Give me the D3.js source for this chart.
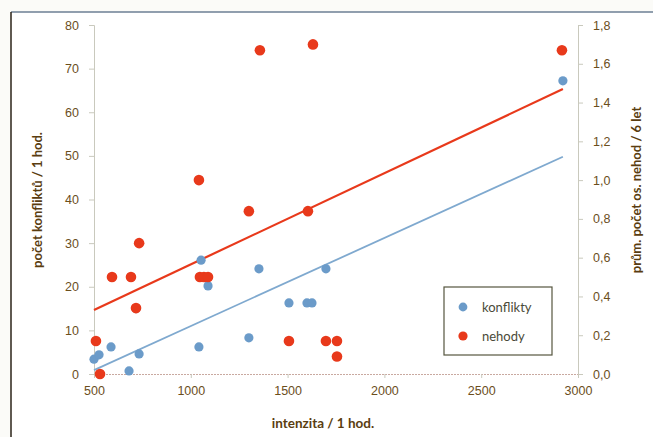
<!DOCTYPE html>
<html>
<head>
<meta charset="utf-8">
<script src="https://cdn.jsdelivr.net/npm/d3@7"></script>
<style>
  body { margin: 0; background: #fbfbf8; }
  svg { display: block; font-family: Lato, "Open Sans", sans-serif; }
</style>
</head>
<body>
<div id="chart"></div>
<script>
// konflikty (left axis) - intenzita vs pocet konfliktu
var konfliktyX = [500, 526, 588, 681, 717, 733, 1042, 1053, 1089, 1300, 1352, 1507, 1600, 1626, 1698, 2922];
var konfliktyY = [3.4, 4.4, 6.2, 0.7, 15, 4.6, 6.2, 26.1, 20.2, 8.3, 24.1, 16.3, 16.3, 16.3, 24.1, 67.2];

// nehody (right axis) - prum. pocet os. nehod
var nehodyX = [510, 531, 593, 691, 717, 733, 1042, 1047, 1068, 1089, 1300, 1357, 1507, 1605, 1631, 1698, 1755, 1755, 2917];
var nehodyY = [0.17, 0.0, 0.5, 0.5, 0.34, 0.675, 1.0, 0.5, 0.5, 0.5, 0.84, 1.67, 0.17, 0.84, 1.70, 0.17, 0.17, 0.09, 1.67];

// trendline end points
var trendKonflikty = [[500, 0.9], [2922, 49.8]];
var trendNehody = [[500, 0.33], [2922, 1.47]];

var xTicks = [500, 1000, 1500, 2000, 2500, 3000];
var leftTicks = [0, 10, 20, 30, 40, 50, 60, 70, 80];
var rightTicks = [0, 0.2, 0.4, 0.6, 0.8, 1.0, 1.2, 1.4, 1.6, 1.8];

var width = 653, height = 437;
var labelColor = "#6b4e1c", titleColor = "#5a3d10", axisColor = "#c9c9bd";
var blue = "#6b9bc9", red = "#e8391b";

var svg = d3.select("#chart").append("svg")
    .attr("width", width).attr("height", height)
    .attr("viewBox", [0, 0, width, height]);

// frame
svg.append("rect").attr("x", 11).attr("y", 12).attr("width", 700).attr("height", 500)
    .attr("fill", "#ffffff").attr("stroke", "none");
svg.append("line").attr("x1", 11).attr("x2", width).attr("y1", 12).attr("y2", 12)
    .attr("stroke", "#6d7f95").attr("stroke-width", 1.5);
svg.append("line").attr("x1", 11).attr("x2", 11).attr("y1", 12).attr("y2", height)
    .attr("stroke", "#2b2318").attr("stroke-width", 1.5);

var x = d3.scaleLinear().domain([500, 3000]).range([94, 578]);
var yL = d3.scaleLinear().domain([0, 80]).range([374, 25]);
var yR = d3.scaleLinear().domain([0, 1.8]).range([374, 25]);

// x axis
var gx = svg.append("g").attr("transform", "translate(0,374)")
    .call(d3.axisBottom(x).tickValues(xTicks).tickSize(4).tickFormat(d3.format("d")));
gx.select(".domain").attr("stroke", "#c9a9a0").attr("stroke-dasharray", "2,1");
gx.selectAll(".tick line").attr("stroke", axisColor);
gx.selectAll("text").attr("fill", labelColor).attr("font-size", 12.5).attr("dy", "1.1em");

// left axis
var gl = svg.append("g").attr("transform", "translate(94,0)")
    .call(d3.axisLeft(yL).tickValues(leftTicks).tickSize(5).tickPadding(10));
gl.select(".domain").attr("stroke", axisColor);
gl.selectAll(".tick line").attr("stroke", axisColor);
gl.selectAll("text").attr("fill", labelColor).attr("font-size", 12.5);

// right axis
var gr = svg.append("g").attr("transform", "translate(578,0)")
    .call(d3.axisRight(yR).tickValues(rightTicks).tickSize(5).tickPadding(10)
        .tickFormat(d => d3.format(".1f")(d).replace(".", ",")));
gr.select(".domain").attr("stroke", axisColor);
gr.selectAll(".tick line").attr("stroke", axisColor);
gr.selectAll("text").attr("fill", labelColor).attr("font-size", 12.5);

// axis titles
svg.append("text").attr("transform", "translate(42,200) rotate(-90)")
    .attr("text-anchor", "middle").attr("fill", titleColor)
    .attr("font-size", 13).attr("font-weight", "bold")
    .text("počet konfliktů / 1 hod.");
svg.append("text").attr("transform", "translate(641,190) rotate(-90)")
    .attr("text-anchor", "middle").attr("fill", titleColor)
    .attr("font-size", 13).attr("font-weight", "bold")
    .text("prům. počet os. nehod / 6 let");
svg.append("text").attr("x", 323).attr("y", 428)
    .attr("text-anchor", "middle").attr("fill", titleColor)
    .attr("font-size", 13.5).attr("font-weight", "bold")
    .text("intenzita / 1 hod.");

// trendlines
svg.append("line")
    .attr("x1", x(trendKonflikty[0][0])).attr("y1", yL(trendKonflikty[0][1]))
    .attr("x2", x(trendKonflikty[1][0])).attr("y2", yL(trendKonflikty[1][1]))
    .attr("stroke", "#7fa9cf").attr("stroke-width", 1.8);
svg.append("line")
    .attr("x1", x(trendNehody[0][0])).attr("y1", yR(trendNehody[0][1]))
    .attr("x2", x(trendNehody[1][0])).attr("y2", yR(trendNehody[1][1]))
    .attr("stroke", red).attr("stroke-width", 2.2);

// points
svg.append("g").attr("fill", blue)
    .selectAll("circle").data(d3.range(konfliktyX.length)).join("circle")
    .attr("cx", i => x(konfliktyX[i]))
    .attr("cy", i => yL(konfliktyY[i]))
    .attr("r", 4.6);

svg.append("g").attr("fill", red)
    .selectAll("circle").data(d3.range(nehodyX.length)).join("circle")
    .attr("cx", i => x(nehodyX[i]))
    .attr("cy", i => yR(nehodyY[i]))
    .attr("r", 5.3);

// legend
var lg = svg.append("g").attr("transform", "translate(444,287)");
lg.append("rect").attr("width", 108).attr("height", 68)
    .attr("fill", "#ffffff").attr("stroke", "#55553f").attr("stroke-width", 1.2);
lg.append("circle").attr("cx", 19).attr("cy", 20).attr("r", 4.4).attr("fill", blue);
lg.append("circle").attr("cx", 19).attr("cy", 49).attr("r", 4.6).attr("fill", red);
lg.append("text").attr("x", 38).attr("y", 24.5).attr("fill", "#4a4a38")
    .attr("font-size", 13).text("konflikty");
lg.append("text").attr("x", 38).attr("y", 53.5).attr("fill", "#4a4a38")
    .attr("font-size", 13).text("nehody");
</script>
</body>
</html>
